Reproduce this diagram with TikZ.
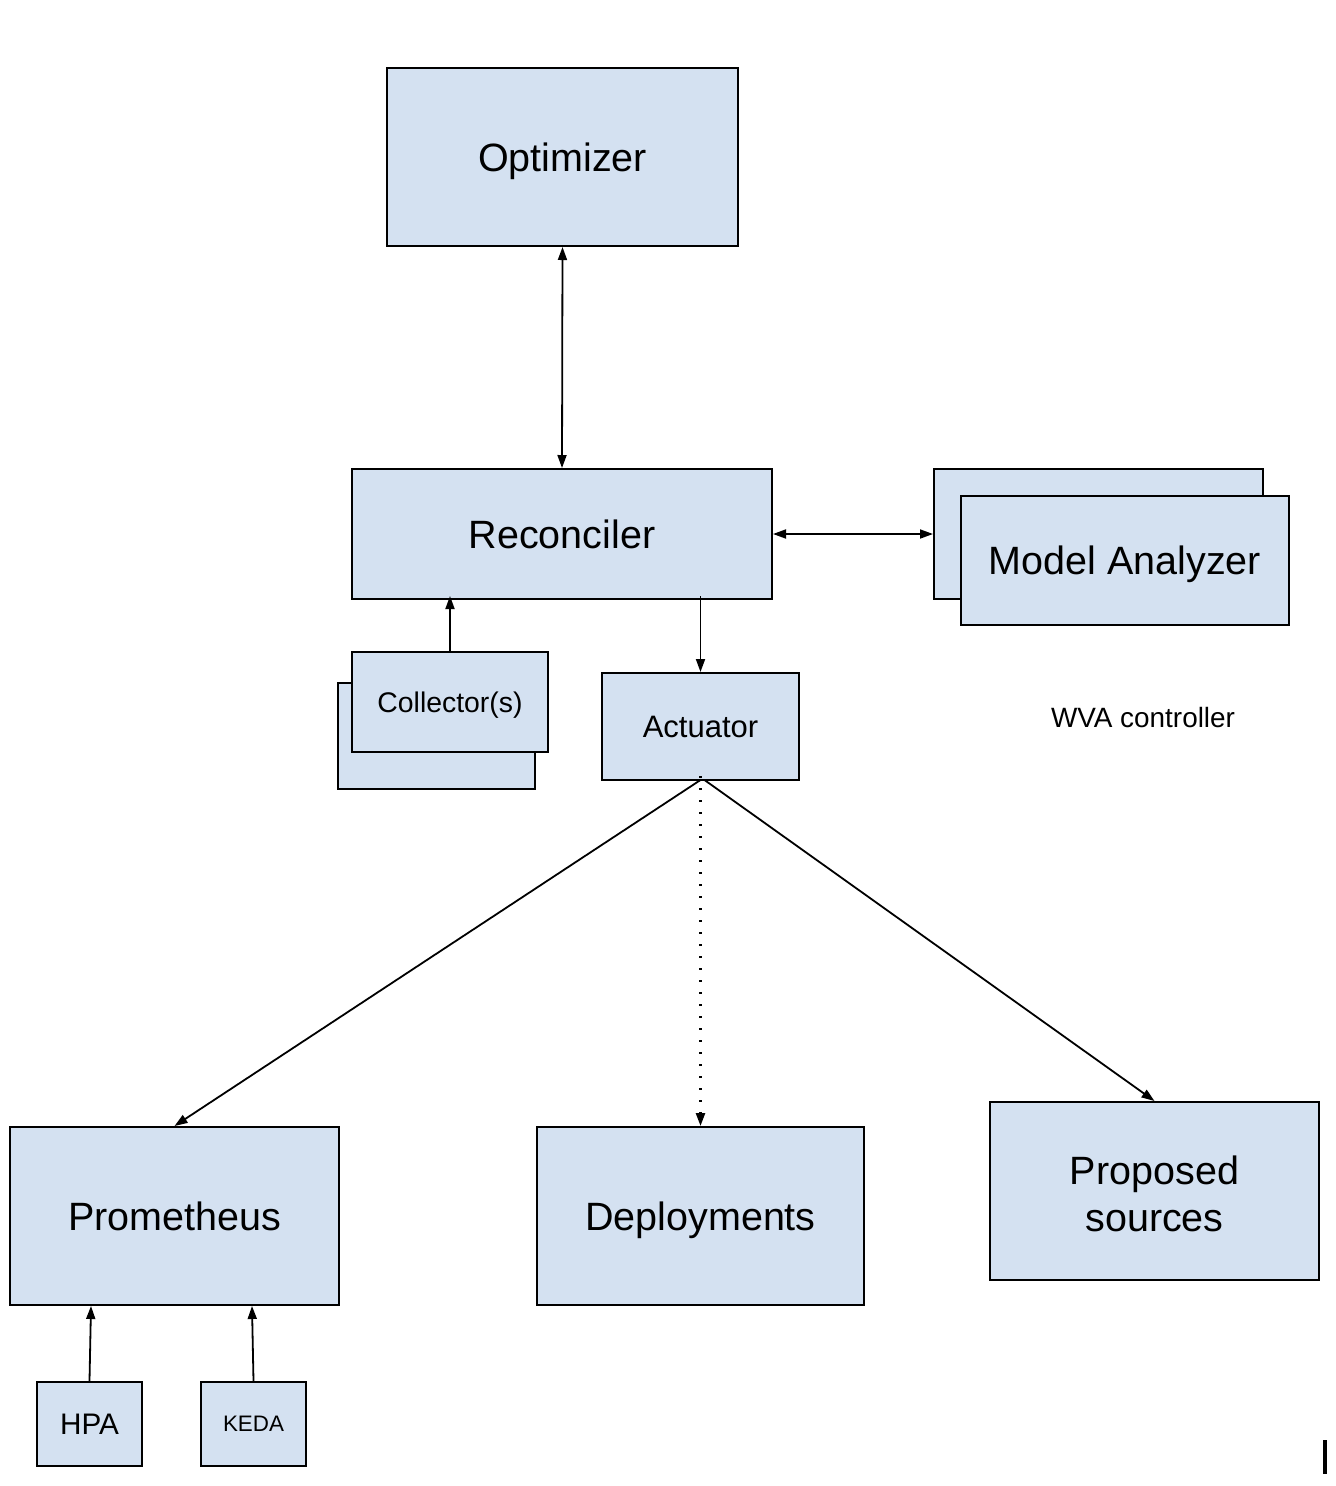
\documentclass[tikz,border=0pt]{standalone}
\usepackage{fontspec}
\setmainfont{Liberation Sans}
\usetikzlibrary{arrows.meta}
\definecolor{boxfill}{HTML}{D4E1F1}
\tikzset{
  box/.style={draw=black, fill=boxfill, line width=2pt, inner sep=0pt, align=center},
  conn/.style={line width=1.8pt, -{Triangle[length=13pt,width=9pt]}},
  biconn/.style={line width=1.8pt, {Triangle[length=13pt,width=9pt]}-{Triangle[length=13pt,width=9pt]}},
  one/.style={text depth=0pt},
  big/.style={font=\fontsize{39.5}{47}\selectfont},
}
\begin{document}
\begin{tikzpicture}[x=1pt,y=-1pt]
\useasboundingbox (0,0) rectangle (1336,1486);
% Optimizer
\node[box, big, one, minimum width=351pt, minimum height=178pt] (opt) at (562.5,157) {Optimizer};
% Reconciler
\node[box, big, one, minimum width=420pt, minimum height=130pt] (rec) at (562,534) {Reconciler};
% Model Analyzer (stacked)
\node[box, minimum width=329pt, minimum height=130pt] (maback) at (1098.5,534) {};
\node[box, big, one, minimum width=328pt, minimum height=129pt] (ma) at (1125,560.5) {Model Analyzer};
% Collector(s) (stacked)
\node[box, minimum width=197pt, minimum height=106pt] (colback) at (436.5,736) {};
\node[box, one, font=\fontsize{28.4}{34}\selectfont, minimum width=196pt, minimum height=100pt] (col) at (450,702) {Collector(s)};
% Actuator
\node[box, one, font=\fontsize{31}{37}\selectfont, minimum width=197pt, minimum height=107pt] (act) at (700.5,726.5) {Actuator};
% WVA controller
\node[one, font=\fontsize{27.9}{33}\selectfont, inner sep=0pt] (wva) at (1143,717) {WVA controller};
% Bottom row
\node[box, big, one, minimum width=329pt, minimum height=178pt] (prom) at (174.5,1216) {Prometheus};
\node[box, big, one, minimum width=327pt, minimum height=178pt] (dep) at (700.5,1216) {Deployments};
\node[box, minimum width=329pt, minimum height=178pt] (prop) at (1154.5,1191) {};
\node[big, align=center, inner sep=0pt] (proptext) at ([yshift=-3pt]prop.center) {Proposed\\sources};
% HPA / KEDA
\node[box, one, font=\fontsize{29.7}{35}\selectfont, minimum width=105pt, minimum height=84pt] (hpa) at (89.5,1424) {HPA};
\node[box, one, font=\fontsize{22.4}{27}\selectfont, minimum width=105pt, minimum height=84pt] (keda) at (253.5,1424) {KEDA};
% small mark bottom right
\fill (1323,1440) rectangle (1326.5,1474);
% Connectors
\draw[biconn] (opt.south) -- (rec.north);
\draw[biconn] (rec.east |- 0,534) -- (maback.west |- 0,534);
\draw[conn] (col.north) -- ([yshift=4pt]rec.south -| col.north);
\draw[conn] ([yshift=4pt]rec.south -| act.north) -- (act.north);
\draw[conn] ([yshift=1pt]act.south) -- (prom.north);
\draw[line width=2.4pt, dash pattern=on 2.4pt off 9.6pt, -{Triangle[length=13pt,width=9pt]}] ([yshift=5pt]act.south) -- (dep.north);
\draw[conn] ([xshift=4pt,yshift=1pt]act.south) -- (prop.north);
\draw[conn] (hpa.north) -- ([xshift=1.5pt]prom.south -| hpa.north);
\draw[conn] (keda.north) -- ([xshift=-1.5pt]prom.south -| keda.north);
\end{tikzpicture}
\end{document}
